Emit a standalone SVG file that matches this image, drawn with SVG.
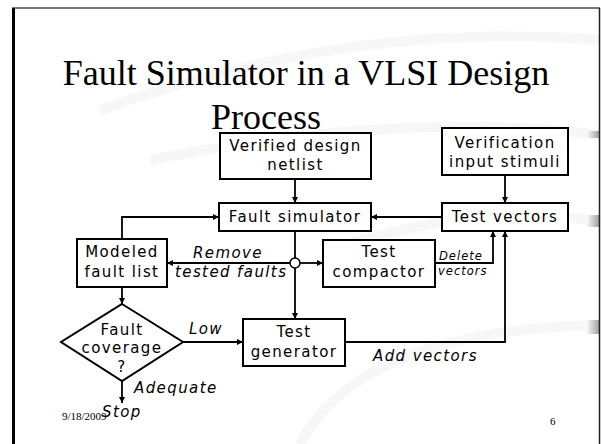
<svg xmlns="http://www.w3.org/2000/svg" width="602" height="444" viewBox="0 0 602 444">
<style>
.box{fill:#fff;stroke:#000;stroke-width:2}
.t{font-family:"DejaVu Sans",sans-serif;font-size:15px;letter-spacing:1.4px;fill:#000;text-anchor:middle}
.it{font-family:"DejaVu Sans",sans-serif;font-size:15px;letter-spacing:1.4px;font-style:italic;fill:#000}
.sm{font-size:11.5px;letter-spacing:1px}
.ln{fill:none;stroke:#000;stroke-width:1.8}
.title{font-family:"Liberation Serif","Times New Roman",serif;font-size:36px;fill:#000;text-anchor:middle}
.foot{font-family:"Liberation Serif","Times New Roman",serif;font-size:11px;fill:#000}
</style>
<defs>
<marker id="ah" viewBox="0 0 8 8" refX="8" refY="4" markerWidth="6" markerHeight="6" orient="auto" markerUnits="userSpaceOnUse">
<path d="M0,0 L8,4 L0,8 z" fill="#000"/>
</marker>
<linearGradient id="gr" x1="0" x2="1" y1="0" y2="0">
<stop offset="0" stop-color="#fff"/>
<stop offset="1" stop-color="#999"/>
</linearGradient>
</defs>
<rect width="602" height="444" fill="#fff"/>
<g id="background" fill="none" stroke="#f7f7f7" stroke-width="10">
<path d="M100,110 Q350,20 600,40"/>
<path d="M150,160 Q400,110 600,135"/>
<path d="M330,250 Q480,200 600,222"/>
<path d="M300,444 Q360,330 600,325"/>
</g>
<g id="swooshes">
<rect x="586" y="131" width="14" height="7" fill="url(#gr)"/>
<rect x="586" y="215" width="14" height="12" fill="url(#gr)"/>
<rect x="586" y="320" width="14" height="14" fill="url(#gr)"/>
</g>
<g id="frame">
<line x1="12" y1="8" x2="600" y2="8" stroke="#777" stroke-width="2"/>
<line x1="13.5" y1="8" x2="13.5" y2="444" stroke="#000" stroke-width="3"/>
<line x1="599.5" y1="8" x2="599.5" y2="444" stroke="#222" stroke-width="1.5"/>
</g>
<g id="title">
<text class="title" x="306" y="85">Fault Simulator in a VLSI Design</text>
<text class="title" x="266" y="129">Process</text>
</g>
<g id="connectors">
<line class="ln" x1="295" y1="179" x2="295" y2="203" marker-end="url(#ah)"/>
<line class="ln" x1="505" y1="175" x2="505" y2="203" marker-end="url(#ah)"/>
<line class="ln" x1="442" y1="217" x2="371" y2="217" marker-end="url(#ah)"/>
<path class="ln" d="M122,239 V217 H219" marker-end="url(#ah)"/>
<line class="ln" x1="295" y1="231" x2="295" y2="258"/>
<line class="ln" x1="290" y1="263" x2="167" y2="263" marker-end="url(#ah)"/>
<line class="ln" x1="300" y1="263" x2="323" y2="263" marker-end="url(#ah)"/>
<line class="ln" x1="295" y1="268" x2="295" y2="319" marker-end="url(#ah)"/>
<path class="ln" d="M435,263 H493 V231" marker-end="url(#ah)"/>
<path class="ln" d="M345,342 H505 V231" marker-end="url(#ah)"/>
<line class="ln" x1="183" y1="342" x2="243" y2="342" marker-end="url(#ah)"/>
<line class="ln" x1="122" y1="287" x2="122" y2="304" marker-end="url(#ah)"/>
<line class="ln" x1="122" y1="381" x2="122" y2="403" marker-end="url(#ah)"/>
<circle cx="295" cy="263" r="5" fill="#fff" stroke="#000" stroke-width="1.5"/>
</g>
<g id="labels">
<text class="it" x="193" y="258">Remove</text>
<text class="it" x="175" y="277">tested faults</text>
<text class="it sm" x="439" y="260">Delete</text>
<text class="it sm" x="438" y="275">vectors</text>
<text class="it" x="373" y="361">Add vectors</text>
<text class="it" x="189" y="334">Low</text>
<text class="it" x="134" y="393">Adequate</text>
<text class="it" x="102" y="417">Stop</text>
</g>
<g id="verified-netlist">
<rect class="box" x="220" y="133" width="151" height="46"/>
<text class="t" x="295.5" y="151">Verified design</text>
<text class="t" x="295.5" y="170">netlist</text>
</g>
<g id="verification-stimuli">
<rect class="box" x="442" y="128" width="126" height="47"/>
<text class="t" x="505" y="148">Verification</text>
<text class="t" x="505" y="167">input stimuli</text>
</g>
<g id="fault-simulator">
<rect class="box" x="219" y="203" width="152" height="28"/>
<text class="t" x="295" y="222">Fault simulator</text>
</g>
<g id="test-vectors">
<rect class="box" x="442" y="203" width="126" height="28"/>
<text class="t" x="505" y="222">Test vectors</text>
</g>
<g id="modeled-fault-list">
<rect class="box" x="77" y="239" width="90" height="48"/>
<text class="t" x="122" y="257">Modeled</text>
<text class="t" x="122" y="277">fault list</text>
</g>
<g id="test-compactor">
<rect class="box" x="323" y="240" width="112" height="47"/>
<text class="t" x="379" y="257">Test</text>
<text class="t" x="379" y="277">compactor</text>
</g>
<g id="fault-coverage">
<polygon class="box" points="122,304 183,342 122,381 61,342"/>
<text class="t" x="122" y="335">Fault</text>
<text class="t" x="122" y="353">coverage</text>
<text class="t" x="122" y="372">?</text>
</g>
<g id="test-generator">
<rect class="box" x="243" y="319" width="102" height="47"/>
<text class="t" x="294" y="337">Test</text>
<text class="t" x="294" y="357">generator</text>
</g>
<g id="footer">
<text class="foot" x="62" y="420">9/18/2009</text>
<text class="foot" x="550" y="425">6</text>
</g>
</svg>
